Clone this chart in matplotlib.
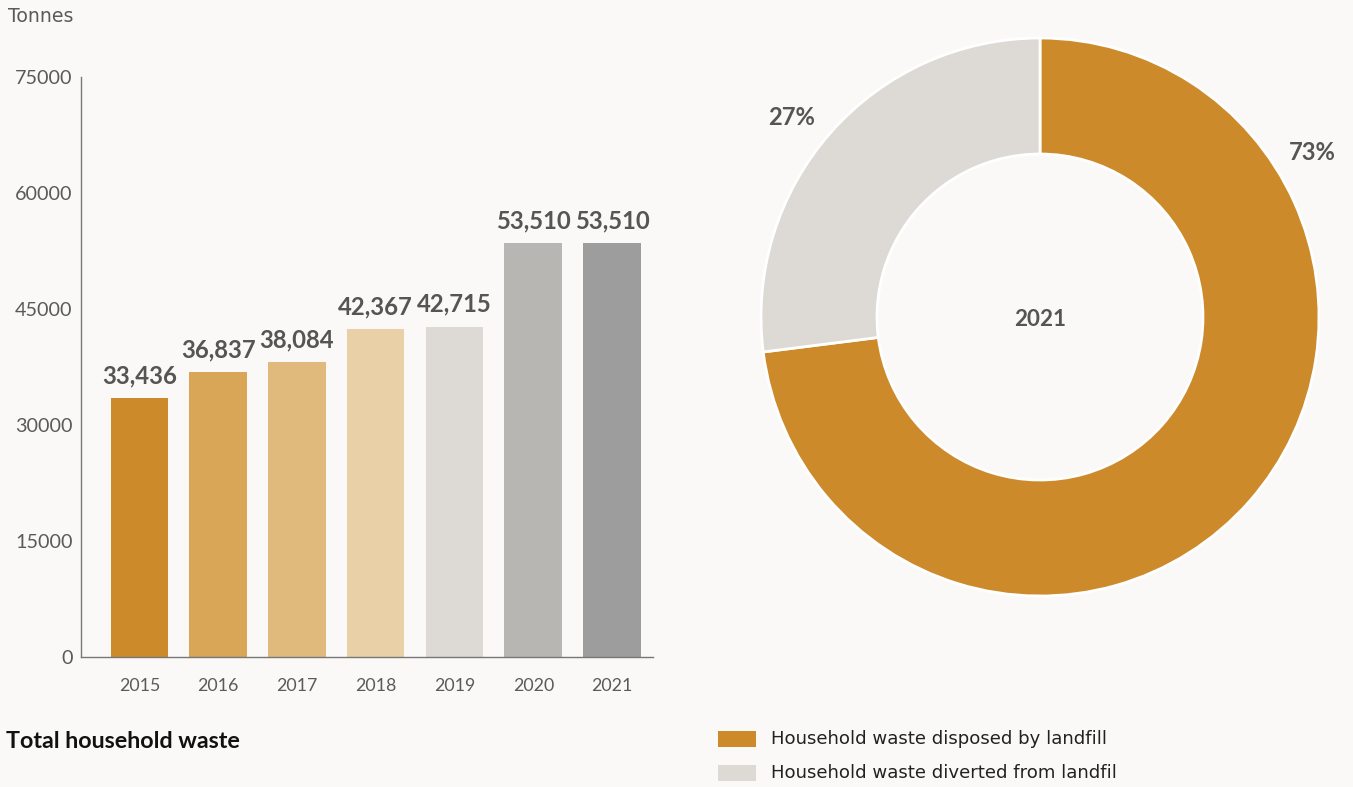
import matplotlib
matplotlib.use("Agg")
import matplotlib.pyplot as plt
from matplotlib.patches import Rectangle

plt.rcParams['font.family'] = ['Lato', 'DejaVu Sans']
WIDE = ['DejaVu Sans']

years = ['2015', '2016', '2017', '2018', '2019', '2020', '2021']
totals = [33436, 36837, 38084, 42367, 42715, 53510, 53510]
bar_colors = ['#CD8A2A', '#D9A556', '#E0B97C', '#EAD0A6', '#DDDAD5', '#B8B6B3', '#9D9D9D']
y_ticks = [0, 15000, 30000, 45000, 60000, 75000]

share_labels = ['Household waste disposed by landfill', 'Household waste diverted from landfil']
share_values = [73, 27]
share_colors = ['#CD8A2A', '#DDDAD5']
donut_year = '2021'

BG = '#FAF9F7'
W, H = 1353, 787
fig = plt.figure(figsize=(W / 100, H / 100), dpi=100, facecolor=BG)

def px(x0, y0, x1, y1):
    return [x0 / W, 1 - y1 / H, (x1 - x0) / W, (y1 - y0) / H]

# Bar chart
ax = fig.add_axes(px(81, 77, 653, 657))
ax.set_facecolor(BG)
xs = list(range(len(years)))
ax.bar(xs, totals, width=0.73, color=bar_colors)
ax.set_xlim(-0.74, 6.52)
ax.set_ylim(0, 75000)
ax.set_yticks(y_ticks)
ax.set_yticklabels([str(v) for v in y_ticks])
ax.set_xticks(xs)
ax.set_xticklabels(years)
ax.tick_params(axis='both', length=0, colors='#5a5a5a', labelsize=13)
ax.tick_params(axis='y', pad=6)
ax.tick_params(axis='x', pad=15)
for s in ['top', 'right']:
    ax.spines[s].set_visible(False)
for s in ['left', 'bottom']:
    ax.spines[s].set_color('#777777')
    ax.spines[s].set_linewidth(1)
value_texts = []
for x, v in zip(xs, totals):
    t = ax.annotate(f'{v:,}', (x, v), xytext=(0, 8), textcoords='offset points',
                    ha='center', va='bottom', fontsize=16.5, fontweight='bold', color='#555555')
    value_texts.append(t)

t_tonnes = fig.text(8 / W, 1 - 16 / H, 'Tonnes', ha='left', va='center', fontsize=12,
                    color='#5a5a5a', family=WIDE)
t_title = fig.text(6 / W, 1 - 741 / H, 'Total household waste', ha='left', va='center',
                   fontsize=16, fontweight='bold', color='#111111')

# Donut
cx, cy, r = 1040, 317, 279
ax2 = fig.add_axes(px(cx - r, cy - r, cx + r, cy + r))
ax2.set_facecolor(BG)
ax2.pie(share_values, colors=share_colors, startangle=90, counterclock=False, radius=1,
        wedgeprops=dict(width=116 / 279, edgecolor='white', linewidth=2))
ax2.set_xlim(-1, 1)
ax2.set_ylim(-1, 1)
ax2.set_aspect('equal')
ax2.axis('off')
t_year = ax2.text(0, -3 / r, donut_year, ha='center', va='center', fontsize=16, fontweight='bold', color='#555555')
t_p1 = ax2.text((1312 - cx) / r, (cy - 153) / r, f'{share_values[0]}%', ha='center', va='center',
                fontsize=16, fontweight='bold', color='#555555')
t_p2 = ax2.text((792 - cx) / r, (cy - 118) / r, f'{share_values[1]}%', ha='center', va='center',
                fontsize=16, fontweight='bold', color='#555555')

# Legend
leg_texts = []
for i, (lab, col) in enumerate(zip(share_labels, share_colors)):
    yc = 739 + i * 34
    fig.patches.append(Rectangle((718 / W, 1 - (yc + 8) / H), 38 / W, 16 / H,
                                 transform=fig.transFigure, facecolor=col, edgecolor='none'))
    leg_texts.append(fig.text(771 / W, 1 - yc / H, lab, ha='left', va='center', fontsize=12.5,
                              color='#222222', family=WIDE))

# fit text sizes to the reference's text widths (pixels)
fig.canvas.draw()
rend = fig.canvas.get_renderer()

def fit(t, target):
    w = t.get_window_extent(rend).width
    s = t.get_fontsize() * target / w
    t.set_fontsize(s)
    return s

s = fit(ax.get_yticklabels()[-1], 57)
ax.tick_params(axis='y', labelsize=s)
s = fit(ax.get_xticklabels()[0], 41)
ax.tick_params(axis='x', labelsize=s)
s = fit(value_texts[0], 75)
for t in value_texts:
    t.set_fontsize(s)
fit(t_tonnes, 65)
fit(t_title, 235)
s = fit(leg_texts[0], 339)
for t in leg_texts:
    t.set_fontsize(s)
fit(t_year, 52)
s = fit(t_p1, 47)
t_p2.set_fontsize(s)

fig.savefig('out.png', dpi=100, facecolor=BG)
